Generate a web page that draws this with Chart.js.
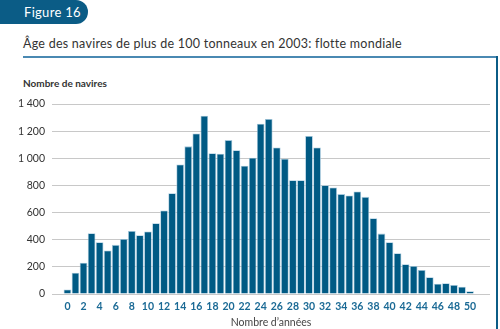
<!DOCTYPE html>
<html>
<head>
<meta charset="utf-8">
<script src="https://cdn.jsdelivr.net/npm/chart.js@4"></script>
<style>
  body { margin: 0; background: #fff; width: 500px; height: 329px; position: relative; overflow: hidden; font-family: Lato, sans-serif; }
  #tab { position: absolute; left: 0; top: 0; width: 88px; height: 24px; background: #0b5c86; border-radius: 0 12px 12px 0; color: #fff; font-size: 13px; line-height: 24px; padding-left: 24px; box-sizing: border-box; letter-spacing: 0.3px; }
  #title { position: absolute; left: 23px; top: 36px; font-size: 12.5px; color: #333; white-space: nowrap; letter-spacing: 0.25px; }
  #rule { position: absolute; left: 23px; top: 56px; width: 475px; height: 2px; background: #4a89b2; }
  #side { position: absolute; left: 496px; top: 56px; width: 2px; height: 273px; background: #0b5c86; }
  #ylab { position: absolute; left: 23px; top: 77px; font-size: 10px; font-weight: bold; color: #333; }
  canvas { position: absolute; left: 0; top: 60px; }
</style>
</head>
<body>
<div id="tab">Figure 16</div>
<div id="title">Âge des navires de plus de 100 tonneaux en 2003: flotte mondiale</div>
<div id="rule"></div>
<div id="side"></div>
<div id="ylab">Nombre de navires</div>
<canvas id="chart" width="494" height="269"></canvas>
<script>
// age of ship (years)
const ages = [0,1,2,3,4,5,6,7,8,9,10,11,12,13,14,15,16,17,18,19,20,21,22,23,24,25,26,27,28,29,30,31,32,33,34,35,36,37,38,39,40,41,42,43,44,45,46,47,48,49,50];
// number of ships
const ships = [34,157,231,448,381,320,362,406,465,433,460,522,615,743,955,1088,1183,1314,1038,1033,1134,1060,945,1004,1255,1289,1080,997,839,839,1164,1080,802,785,736,726,755,716,559,445,381,300,219,207,177,123,76,79,66,54,20];
const xTicks = [0,2,4,6,8,10,12,14,16,18,20,22,24,26,28,30,32,34,36,38,40,42,44,46,48,50];
const yTicks = [0,200,400,600,800,1000,1200,1400];

function spaced(v) {
    return String(v).replace(/\B(?=(\d{3})+(?!\d))/g, ' ');
}

new Chart(document.getElementById('chart'), {
    type: 'bar',
    data: {
        datasets: [{
            data: ages.map((a, i) => ({ x: a, y: ships[i] })),
            backgroundColor: '#005a84',
            borderColor: '#a3c7dc',
            borderWidth: 0.8,
            barPercentage: 0.95,
            categoryPercentage: 1
        }]
    },
    options: {
        responsive: false,
        animation: false,
        layout: { padding: { top: 44, right: 4, left: 0, bottom: 0 } },
        plugins: {
            legend: { display: false },
            tooltip: { enabled: false }
        },
        scales: {
            x: {
                type: 'linear',
                min: -0.87,
                max: 51.43,
                grid: { display: false, drawTicks: false },
                border: { display: false },
                afterBuildTicks: s => { s.ticks = xTicks.map(v => ({ value: v })); },
                afterFit: s => { s.height = 35; },
                ticks: {
                    autoSkip: false,
                    maxRotation: 0,
                    padding: 6,
                    color: '#1b6a95',
                    font: { family: 'Lato', size: 10.5, weight: 'bold' },
                    callback: v => String(v)
                },
                title: {
                    display: true,
                    text: 'Nombre d’années',
                    color: '#444',
                    padding: 0,
                    font: { family: 'Lato', size: 10.5 }
                }
            },
            y: {
                min: 0,
                max: 1400,
                afterBuildTicks: s => { s.ticks = yTicks.map(v => ({ value: v })); },
                afterFit: s => { s.width = 52; },
                grid: { color: '#c8c8c8', lineWidth: 1, drawTicks: false },
                border: { display: false },
                ticks: {
                    padding: 7,
                    color: '#333',
                    font: { family: 'Lato', size: 10.5 },
                    callback: v => spaced(v)
                }
            }
        }
    }
});
</script>
</body>
</html>
